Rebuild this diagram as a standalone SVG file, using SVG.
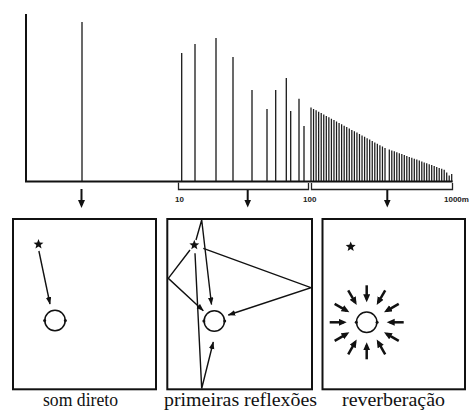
<svg xmlns="http://www.w3.org/2000/svg" width="469" height="410" viewBox="0 0 469 410">
<style>
.ax{stroke:#111;stroke-width:2;fill:none}
.imp{stroke:#1a1a1a;stroke-width:1.3;fill:none}
.dense{stroke:#1a1a1a;stroke-width:1.25;fill:none}
.br{stroke:#222;stroke-width:1.3;fill:none}
.box{fill:#fff;stroke:#111;stroke-width:2}
.ray{stroke:#111;stroke-width:1.4;fill:none}
.big{stroke:#111;stroke-width:2.5;fill:none}
.head{fill:#fff;stroke:#111;stroke-width:1.5}
.ear{fill:#111}
.cap{font-family:"Liberation Serif","Times New Roman",serif;font-size:18px;fill:#111;text-anchor:middle}
.scale{font-family:"Liberation Sans",Arial,sans-serif;font-size:8px;font-weight:bold;fill:#222}
</style>
<defs>
<marker id="thin" markerUnits="userSpaceOnUse" markerWidth="8" markerHeight="6" refX="7" refY="2.75" orient="auto"><path d="M0,0 L7.5,2.75 L0,5.5 z" fill="#111"/></marker>
<marker id="bold" markerUnits="userSpaceOnUse" markerWidth="9" markerHeight="8" refX="5" refY="3.5" orient="auto"><path d="M0,0 L8,3.5 L0,7 z" fill="#111"/></marker>
<path id="star" d="M0,-5.2 L1.35,-1.85 L4.95,-1.6 L2.15,0.7 L3.05,4.2 L0,2.25 L-3.05,4.2 L-2.15,0.7 L-4.95,-1.6 L-1.35,-1.85 z" fill="#111"/>
</defs>

<g id="timeline">
<path class="ax" d="M26,14 V181.5 H452.7"/>
<path class="imp" d="M82,22 V181 M181.7,53 V181 M195,44 V181 M216,38 V181 M233,57 V181 M252,90 V181 M267,109 V181 M275.7,90 V181 M286.3,78 V181 M290.7,111 V181 M299,98.7 V181 M304,126 V181"/>
<path class="dense" d="M311,107.5V181 M313.55,108.9V181 M316.1,110.3V181 M318.66,111.7V181 M321.21,113.1V181 M323.76,114.5V181 M326.31,115.9V181 M328.86,117.3V181 M331.41,118.7V181 M333.97,120.1V181 M336.52,121.5V181 M339.07,122.9V181 M341.62,124.3V181 M344.17,125.7V181 M346.72,127.1V181 M349.28,128.5V181 M351.83,129.9V181 M354.38,131.3V181 M356.93,132.6V181 M359.48,134V181 M362.03,135.4V181 M364.59,136.8V181 M367.14,138.2V181 M369.69,139.6V181 M372.24,141V181 M374.79,142.4V181 M377.34,143.8V181 M379.9,145.2V181 M382.45,146.6V181 M385,148V181 M389.3,149.5V181 M391.8,150.4V181 M394.3,151.3V181 M396.8,152.3V181 M399.3,153.2V181 M401.8,154.1V181 M404.3,155V181 M406.8,155.9V181 M409.3,156.9V181 M411.8,157.8V181 M414.3,158.7V181 M416.8,159.6V181 M419.3,160.5V181 M421.8,161.5V181 M424.2,162.4V181 M426.7,163.3V181 M429.2,164.2V181 M431.7,165.1V181 M434.2,166.1V181 M436.7,167V181 M439.2,167.9V181 M441.7,168.8V181 M444.2,169.7V181 M446.7,172.5V181 M449.2,175.5V181 M451.7,174V181"/>
<path class="br" d="M178.5,182.5 V189.5 H308.5 V183 M311.5,183 V189.5 H452.5 V183"/>
<text class="scale" x="175" y="201.5">10</text>
<text class="scale" x="303" y="201.5">100</text>
<text class="scale" x="444" y="201.5">1000m</text>
</g>

<g id="connectors">
<line class="ax" x1="81.5" y1="189" x2="81.5" y2="205" marker-end="url(#bold)"/>
<line class="ax" x1="247.7" y1="190" x2="247.7" y2="204.5" marker-end="url(#bold)"/>
<line class="ax" x1="387.3" y1="190" x2="387.3" y2="204.5" marker-end="url(#bold)"/>
</g>

<g id="box-som-direto">
<rect class="box" x="13" y="219" width="143" height="170.3"/>
<use href="#star" x="38.5" y="244.3"/>
<line class="ray" x1="38.9" y1="251" x2="50" y2="304" marker-end="url(#thin)"/>
<circle class="head" cx="55" cy="320.5" r="10.2"/>
<circle class="ear" cx="44.6" cy="320.5" r="1.5"/>
<circle class="ear" cx="65.4" cy="320.5" r="1.5"/>
<text class="cap" x="80.5" y="406" textLength="75" lengthAdjust="spacingAndGlyphs">som direto</text>
</g>

<g id="box-primeiras-reflexoes">
<rect class="box" x="167.3" y="219" width="144.7" height="170.3"/>
<use href="#star" x="194.3" y="245"/>
<path class="ray" d="M196,240 L201.7,220 L211.5,304.5" marker-end="url(#thin)"/>
<path class="ray" d="M190,250 L168.3,278.3 L203.3,310.7" marker-end="url(#thin)"/>
<path class="ray" d="M203.3,248.3 L311,287.7 L228.3,315" marker-end="url(#thin)"/>
<path class="ray" d="M195,253.3 L201.7,388.5 L213.3,342" marker-end="url(#thin)"/>
<circle class="head" cx="214.3" cy="321" r="10.2"/>
<circle class="ear" cx="203.9" cy="321" r="1.5"/>
<circle class="ear" cx="224.7" cy="321" r="1.5"/>
<text class="cap" x="240.5" y="406" textLength="153" lengthAdjust="spacingAndGlyphs">primeiras reflexões</text>
</g>

<g id="box-reverberacao">
<rect class="box" x="322.5" y="219" width="142.5" height="170.3"/>
<use href="#star" x="350.7" y="246.7"/>
<g class="big" marker-end="url(#bold)">
<line x1="403.7" y1="322.3" x2="389.7" y2="322.3"/>
<line x1="398.74" y1="340.8" x2="386.62" y2="333.8"/>
<line x1="385.2" y1="354.34" x2="378.2" y2="342.22"/>
<line x1="366.7" y1="359.3" x2="366.7" y2="345.3"/>
<line x1="348.2" y1="354.34" x2="355.2" y2="342.22"/>
<line x1="334.66" y1="340.8" x2="346.78" y2="333.8"/>
<line x1="329.7" y1="322.3" x2="343.7" y2="322.3"/>
<line x1="334.66" y1="303.8" x2="346.78" y2="310.8"/>
<line x1="348.2" y1="290.26" x2="355.2" y2="302.38"/>
<line x1="366.7" y1="285.3" x2="366.7" y2="299.3"/>
<line x1="385.2" y1="290.26" x2="378.2" y2="302.38"/>
<line x1="398.74" y1="303.8" x2="386.62" y2="310.8"/>
</g>
<circle class="head" cx="366.7" cy="322.3" r="10.2"/>
<circle class="ear" cx="356.3" cy="322.3" r="1.5"/>
<circle class="ear" cx="377.1" cy="322.3" r="1.5"/>
<text class="cap" x="393.5" y="406" textLength="103" lengthAdjust="spacingAndGlyphs">reverberação</text>
</g>
</svg>
